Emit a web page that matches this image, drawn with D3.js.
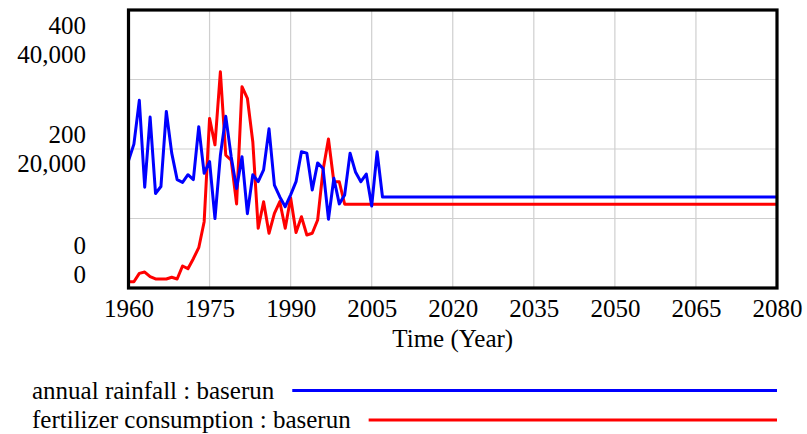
<!DOCTYPE html>
<html>
<head>
<meta charset="utf-8">
<script src="https://cdn.jsdelivr.net/npm/d3@7"></script>
<style>
  html, body { margin: 0; padding: 0; background: #fff; }
  svg { display: block; }
</style>
</head>
<body>
<svg id="chart" width="807" height="434"></svg>
<script>
// Simulation output, one value per year
const rainYears = [1960,1961,1962,1963,1964,1965,1966,1967,1968,1969,1970,1971,1972,1973,1974,1975,1976,1977,1978,1979,
  1980,1981,1982,1983,1984,1985,1986,1987,1988,1989,1990,1991,1992,1993,1994,1995,1996,1997,1998,1999,
  2000,2001,2002,2003,2004,2005,2006,2007,2080];
const annualRainfall = [183,207,270,145,246,136,146,254,194,156,152,163,156,232,165,182,100,191,247,189,
  143,189,107,163,153,170,229,148,131,117,134,153,196,194,141,180,172,99,158,121,
  134,194,167,153,164,118,196,131,131];

const fertYears = [1960,1961,1962,1963,1964,1965,1966,1967,1968,1969,1970,1971,1972,1973,1974,1975,1976,1977,1978,1979,
  1980,1981,1982,1983,1984,1985,1986,1987,1988,1989,1990,1991,1992,1993,1994,1995,1996,1997,1998,1999,
  2000,2080];
const fertilizerConsumption = [900,900,2100,2300,1630,1300,1300,1300,1540,1300,3170,2780,4220,5800,9540,24400,20600,31100,19100,18400,
  12100,28960,27300,21050,8590,12420,7870,10750,12420,8590,13000,8000,10260,7630,7870,9780,16980,21440,15290,15290,
  12050,12050];

const xTicks = [1960,1975,1990,2005,2020,2035,2050,2065,2080];
const rainTicks = [0,200,400];
const fertTicks = [0,20000,40000];
const seriesNames = ["annual rainfall : baserun", "fertilizer consumption : baserun"];
const seriesColors = ["#0000ff", "#ff0000"];

const FONT = "Liberation Serif";
const FS = 25;

const svg = d3.select("#chart");
const plot = { left: 128.5, right: 777, top: 10, bottom: 288 };

const x = d3.scaleLinear().domain([1960, 2080]).range([plot.left, plot.right]);
const yRain = d3.scaleLinear().domain([0, 400]).range([plot.bottom, plot.top]);
const yFert = d3.scaleLinear().domain([0, 40000]).range([plot.bottom, plot.top]);

// grid
const grid = svg.append("g").attr("stroke", "#cfcfcf").attr("stroke-width", 1.2);
grid.selectAll("line.v").data(xTicks.slice(1, -1)).join("line")
  .attr("x1", d => x(d)).attr("x2", d => x(d))
  .attr("y1", plot.top).attr("y2", plot.bottom);
grid.selectAll("line.h").data([100, 200, 300]).join("line")
  .attr("x1", plot.left).attr("x2", plot.right)
  .attr("y1", d => yRain(d)).attr("y2", d => yRain(d));

// series
const lineRain = d3.line().x((d, i) => x(rainYears[i])).y(d => yRain(d));
const lineFert = d3.line().x((d, i) => x(fertYears[i])).y(d => yFert(d));
svg.append("path").datum(fertilizerConsumption)
  .attr("d", lineFert).attr("fill", "none")
  .attr("stroke", seriesColors[1]).attr("stroke-width", 3).attr("stroke-linejoin", "round");
svg.append("path").datum(annualRainfall)
  .attr("d", lineRain).attr("fill", "none")
  .attr("stroke", seriesColors[0]).attr("stroke-width", 3).attr("stroke-linejoin", "round");

// frame
svg.append("rect")
  .attr("x", plot.left).attr("y", plot.top)
  .attr("width", plot.right - plot.left).attr("height", plot.bottom - plot.top)
  .attr("fill", "none").attr("stroke", "#000").attr("stroke-width", 3.2);

// x axis labels
const xAxis = d3.axisBottom(x).tickValues(xTicks).tickSize(0).tickPadding(0).tickFormat(d3.format("d"));
const gx = svg.append("g").attr("transform", `translate(0,${plot.bottom})`).call(xAxis)
  .attr("font-family", FONT).attr("font-size", FS);
gx.select(".domain").remove();
gx.selectAll("text").attr("dy", null).attr("y", 29).attr("fill", "#000");

svg.append("text").attr("x", x(2020)).attr("y", 347).attr("text-anchor", "middle")
  .attr("font-family", FONT).attr("font-size", FS).text("Time (Year)");

// stacked y labels: rainfall above, fertilizer below, pair kept inside the frame
const fmt = d3.format(",");
const labelX = 86;
const gy = svg.append("g").attr("font-family", FONT).attr("font-size", FS).attr("text-anchor", "end");
rainTicks.forEach((r, i) => {
  const f = fertTicks[i];
  const ty = yRain(r);
  const c = Math.max(plot.top + 30, Math.min(plot.bottom - 28, ty));
  gy.append("text").attr("x", labelX).attr("y", c - 14.5 + 8).text(fmt(r));
  gy.append("text").attr("x", labelX).attr("y", c + 14.5 + 8).text(fmt(f));
});

// legend
const legend = svg.append("g").attr("font-family", FONT).attr("font-size", FS);
seriesNames.forEach((name, i) => {
  const ly = 390.5 + i * 29.5;
  const t = legend.append("text").attr("x", 32).attr("y", ly + 8).text(name);
  const end = 32 + t.node().getComputedTextLength();
  legend.append("line").attr("x1", end + 18).attr("x2", plot.right)
    .attr("y1", ly).attr("y2", ly)
    .attr("stroke", seriesColors[i]).attr("stroke-width", 3);
});
</script>
</body>
</html>
